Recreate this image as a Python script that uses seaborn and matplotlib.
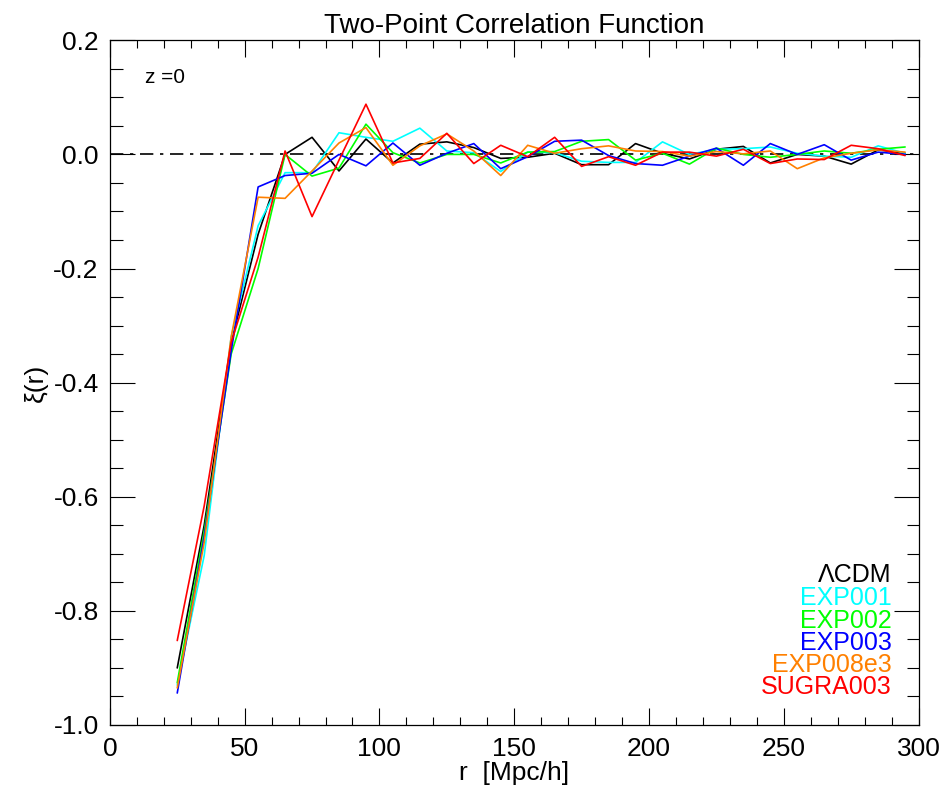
import numpy as np
import pandas as pd
import matplotlib
matplotlib.use("Agg")
import matplotlib.pyplot as plt
import seaborn as sns

r = [25, 35, 45, 55, 65, 75, 85, 95, 105, 115, 125, 135, 145, 155, 165, 175,
     185, 195, 205, 215, 225, 235, 245, 255, 265, 275, 285, 295]

lcdm = [-0.900, -0.650, -0.330, -0.140, 0.000, 0.030, -0.029, 0.027, -0.015, 0.018,
        0.022, 0.012, -0.007, -0.005, 0.002, -0.018, -0.018, 0.019, 0.002, -0.008,
        0.009, 0.014, -0.015, 0.000, -0.003, -0.017, 0.008, 0.002]
exp001 = [-0.930, -0.703, -0.320, -0.125, -0.032, -0.032, 0.038, 0.030, 0.023, 0.046,
          0.006, 0.003, -0.030, 0.004, 0.003, -0.012, -0.014, -0.014, 0.022, 0.000,
          0.009, 0.010, 0.013, 0.002, -0.003, -0.005, 0.015, 0.002]
exp002 = [-0.926, -0.660, -0.350, -0.200, 0.000, -0.038, -0.024, 0.053, 0.003, -0.015,
          0.000, 0.000, -0.015, 0.004, 0.005, 0.023, 0.026, -0.010, 0.002, -0.017,
          0.011, 0.000, -0.005, 0.000, 0.006, 0.002, 0.009, 0.013]
exp003 = [-0.944, -0.670, -0.345, -0.057, -0.037, -0.033, 0.000, -0.020, 0.020, -0.019,
          0.002, 0.019, -0.025, -0.004, 0.023, 0.025, -0.002, -0.016, -0.019, -0.003,
          0.011, -0.019, 0.019, 0.000, 0.017, -0.010, 0.004, 0.000]
exp008e3 = [-0.935, -0.680, -0.320, -0.075, -0.077, -0.029, 0.020, 0.047, -0.019, 0.015,
            0.036, 0.006, -0.037, 0.016, 0.002, 0.010, 0.015, 0.006, 0.005, -0.003,
            0.005, 0.001, 0.006, -0.025, -0.006, 0.002, 0.008, 0.004]
sugra003 = [-0.852, -0.616, -0.330, -0.180, 0.006, -0.109, -0.010, 0.088, -0.015, -0.007,
            0.037, -0.016, 0.016, -0.004, 0.030, -0.021, -0.004, -0.019, 0.004, 0.004,
            -0.003, 0.009, -0.016, -0.008, -0.009, 0.016, 0.010, -0.002]

labels = ["ΛCDM", "EXP001", "EXP002", "EXP003", "EXP008e3", "SUGRA003"]
colors = ["#000000", "#00ffff", "#00ff00", "#0000ff", "#ff8000", "#ff0000"]
series = [lcdm, exp001, exp002, exp003, exp008e3, sugra003]

y_ticks = [-1.0, -0.8, -0.6, -0.4, -0.2, 0.0, 0.2]
y_ticklabels = ["-1.0", "-0.8", "-0.6", "-0.4", "-0.2", "0.0", "0.2"]

df = pd.concat([pd.DataFrame({"r": r, "xi": s, "model": lab})
                for s, lab in zip(series, labels)], ignore_index=True)

sns.set_style("ticks")
plt.rcParams["font.family"] = ["Liberation Sans", "DejaVu Sans"]
plt.rcParams["text.color"] = "black"
plt.rcParams["axes.labelcolor"] = "black"
plt.rcParams["xtick.color"] = "black"
plt.rcParams["ytick.color"] = "black"

fig = plt.figure(figsize=(9.47, 7.98), dpi=100)
ax = fig.add_axes([0.116, 0.0915, 0.854, 0.858])

ax.axhline(0.0, color="black", lw=1.2, ls=(0, (8, 4, 2, 4)), zorder=1)
sns.lineplot(data=df, x="r", y="xi", hue="model", hue_order=labels,
             palette=dict(zip(labels, colors)), lw=1.2, legend=False, ax=ax,
             zorder=2)

ax.set_xlim(0, 300)
ax.set_ylim(-1.0, 0.2)
ax.set_xticks(np.arange(0, 301, 50))
ax.set_xticks(np.arange(0, 301, 10), minor=True)
ax.set_yticks(y_ticks)
ax.set_yticklabels(y_ticklabels)
ax.set_yticks(np.arange(-1.0, 0.21, 0.05), minor=True)
ax.tick_params(axis="both", which="both", direction="in", top=True, right=True,
               labelsize=19, color="black", labelcolor="black", width=0.8)
ax.tick_params(axis="x", which="major", length=12, pad=9)
ax.tick_params(axis="x", which="minor", length=6)
ax.tick_params(axis="y", which="major", length=18, pad=8)
ax.tick_params(axis="y", which="minor", length=9)
for sp in ax.spines.values():
    sp.set_linewidth(0.9)
    sp.set_color("black")

ax.set_xlabel("r  [Mpc/h]", fontsize=19, labelpad=0)
ax.set_ylabel("ξ(r)", fontsize=19, labelpad=4)
ax.set_title("Two-Point Correlation Function", fontsize=20, pad=5)

ax.text(13, 0.135, "z =0", fontsize=15, ha="left", va="center")
ys = [-0.738, -0.778, -0.817, -0.856, -0.895, -0.934]
for lab, c, yv in zip(labels, colors, ys):
    ax.text(290, yv, lab, color=c, fontsize=18, ha="right", va="center")

fig.savefig("out.png", dpi=100)
